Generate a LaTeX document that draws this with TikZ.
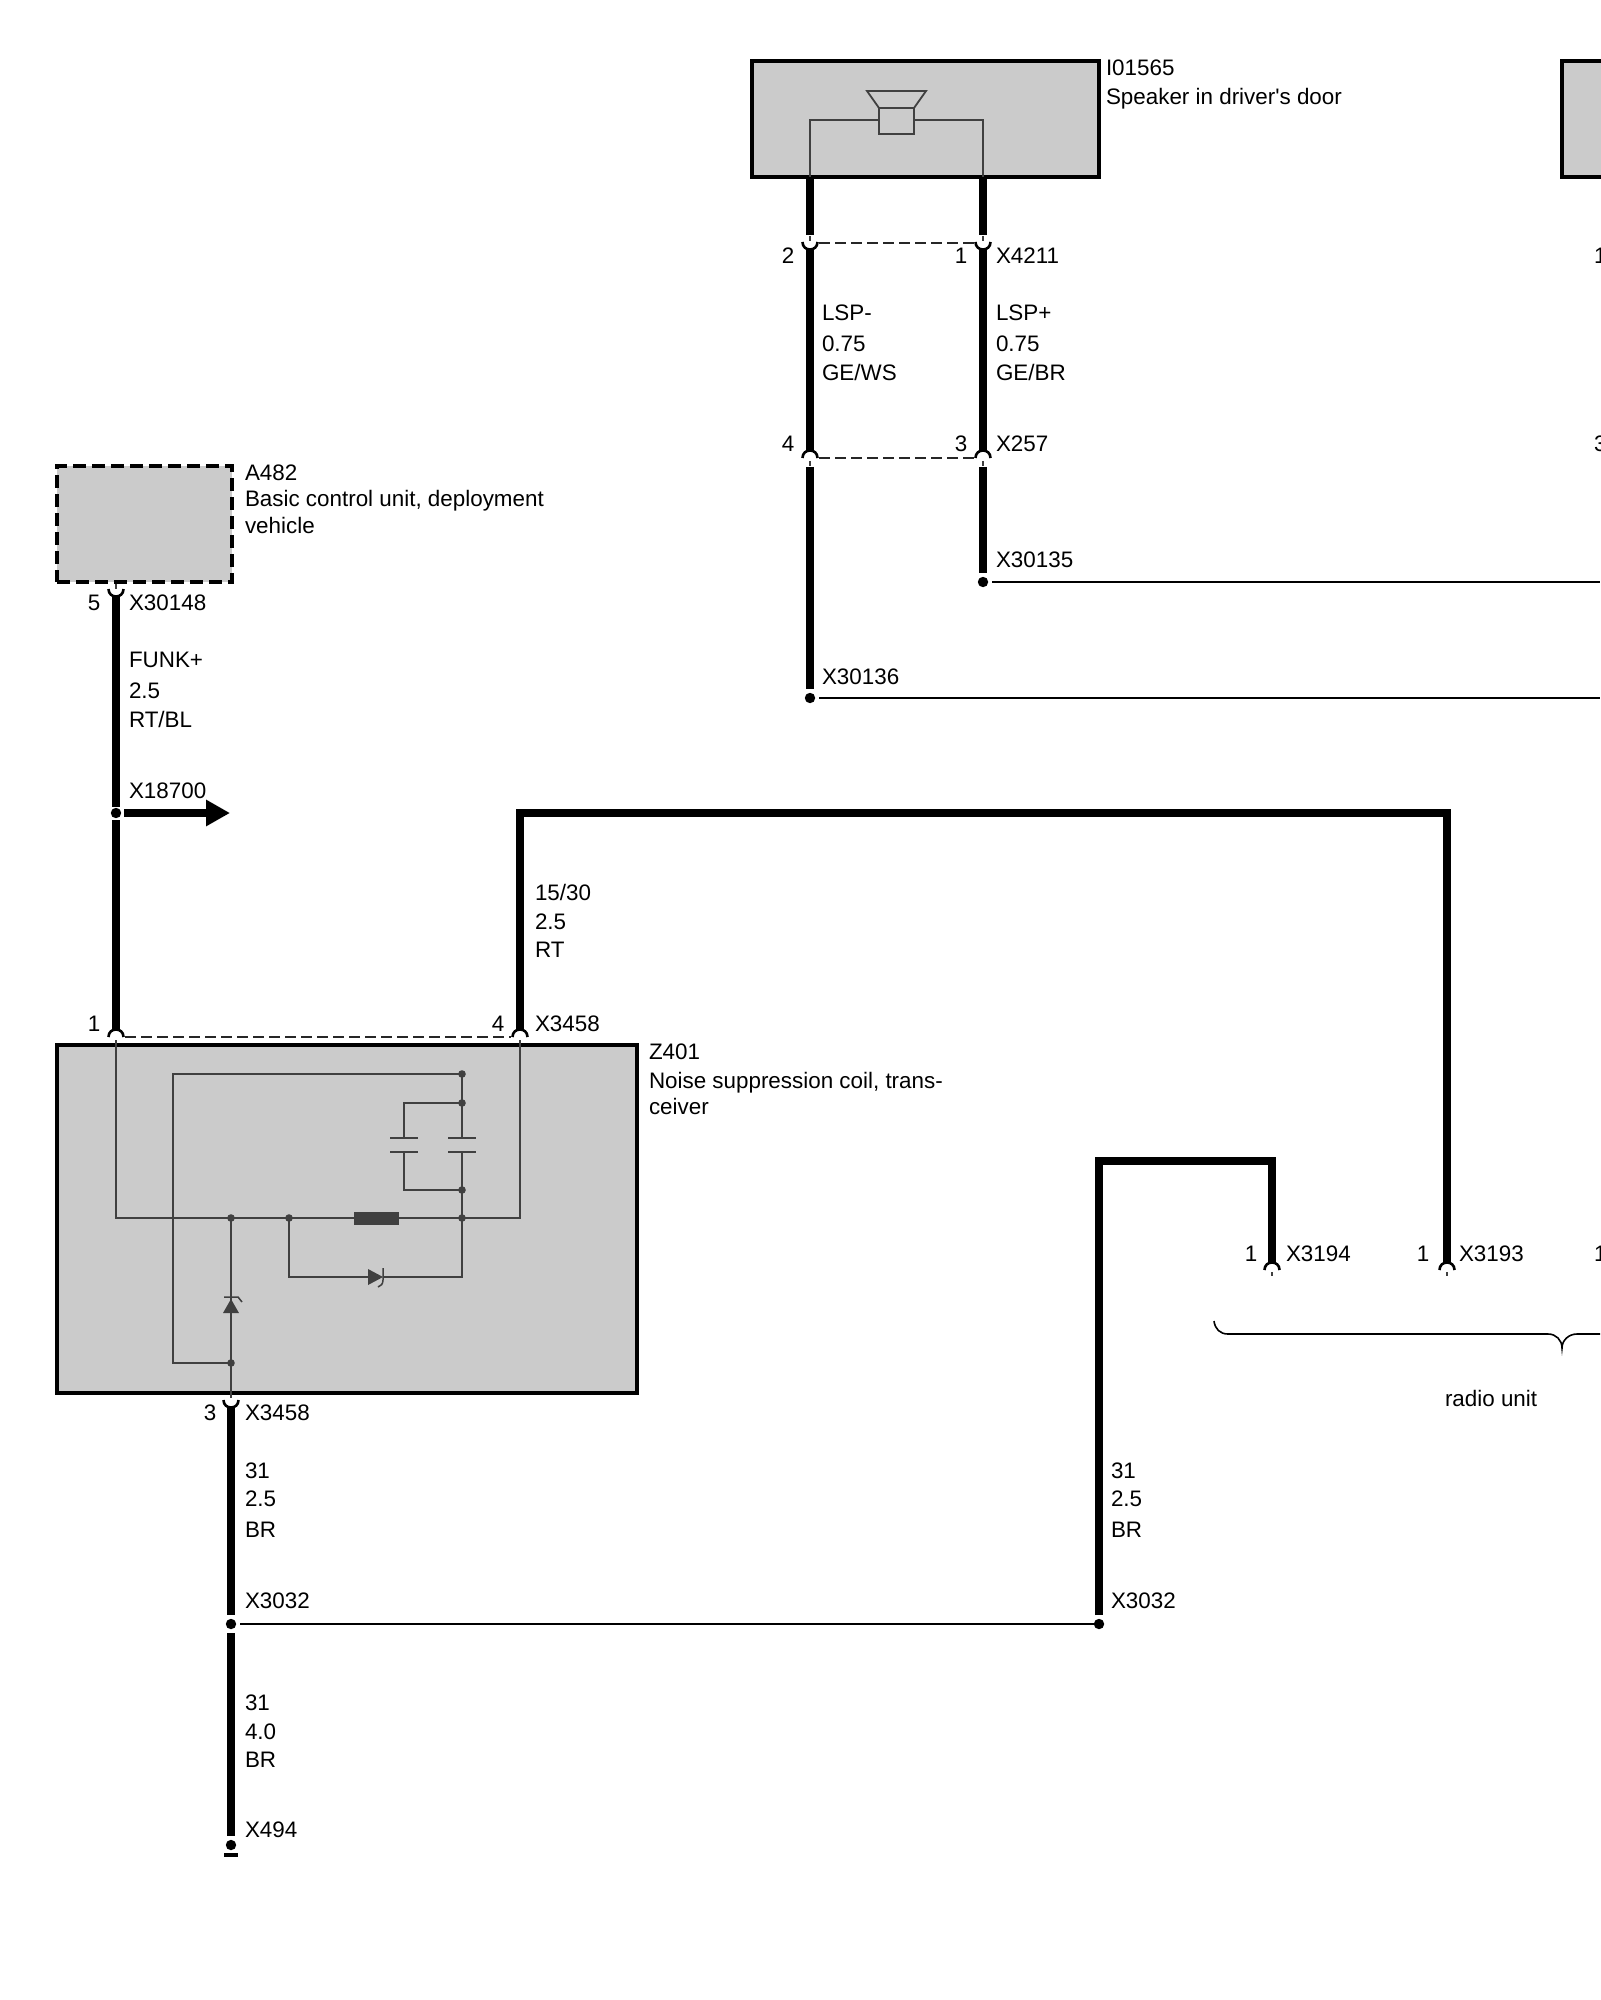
\documentclass[tikz,border=0pt]{standalone}
\usepackage{fontspec}
\newfontfamily\labfont{Liberation Sans}
\usetikzlibrary{arrows.meta}
\definecolor{boxgrey}{HTML}{CBCBCB}
\definecolor{inner}{HTML}{404040}
\newcommand\cupU[2]{\draw[pinline] ({#1-7.5},{#2}) .. controls ({#1-7.5},{#2+10}) and ({#1+7.5},{#2+10}) .. ({#1+7.5},{#2});}
\newcommand\cupN[2]{\draw[pinline] ({#1-7.5},{#2}) .. controls ({#1-7.5},{#2-10}) and ({#1+7.5},{#2-10}) .. ({#1+7.5},{#2});}
\tikzset{
  x=0.5pt,y=-0.5pt,
  unitbox/.style={draw=black,fill=boxgrey,line width=1.8pt,minimum width=#1,inner sep=0pt,outer sep=0pt,rectangle},
  wire/.style={draw=black,line width=4.2pt,line join=miter,line cap=butt},
  thinwire/.style={draw=black,line width=0.9pt},
  inwire/.style={draw=inner,line width=0.9pt,line join=miter},
  pinline/.style={draw=black,line width=1.3pt},
  stub/.style={draw=black!75,line width=0.7pt},
  linkdash/.style={draw=black!85,line width=0.7pt,dash pattern=on 5.5pt off 2.5pt},
  dotn/.style={circle,fill=black,inner sep=0pt,minimum size=5.2pt},
  indot/.style={circle,fill=inner,inner sep=0pt,minimum size=3.8pt},
  lbl/.style={anchor=base west,inner sep=0pt,outer sep=0pt,yshift=-0.6pt,font=\labfont\fontsize{11.2}{13}\selectfont,text=black},
  pinnum/.style={anchor=base,inner sep=0pt,outer sep=0pt,yshift=-0.6pt,font=\labfont\fontsize{11.2}{13}\selectfont,text=black},
}
\begin{document}
\begin{tikzpicture}
\useasboundingbox (0,0) rectangle (1600,2000);
\fill[white] (0,0) rectangle (1600,2000);

% ---- unit boxes
\node[unitbox=173.5pt,minimum height=58pt] (spk) at (925.5,119) {};
\node[unitbox=90pt,minimum height=58pt] (rbox) at (1652,119) {};
\node[fill=boxgrey,draw=black,line width=1.8pt,dash pattern=on 6.5pt off 3pt,minimum width=87.5pt,minimum height=58pt,inner sep=0pt,outer sep=0pt] (bcu) at (144.5,524) {};
\node[unitbox=290pt,minimum height=174pt] (zbox) at (347,1219) {};

% ---- speaker symbol
\coordinate (sa) at (810,177); \coordinate (sb) at (983,177);
\draw[inwire] (867,91) -- (926,91) -- (914,108) -- (879,108) -- cycle;
\node[draw=inner,line width=0.9pt,minimum width=17.5pt,minimum height=13pt,inner sep=0pt,outer sep=0pt] (magnet) at (896.5,121) {};
\draw[inwire] (sa) |- (magnet.west |- 0,120);
\draw[inwire] (sb) |- (magnet.east |- 0,120);

% ---- speaker wiring
\coordinate (l1) at (810,177); \coordinate (l2) at (810,235);
\coordinate (l3) at (810,248); \coordinate (l4) at (810,451);
\coordinate (l5) at (810,467); \coordinate (l6) at (810,689);
\coordinate (r1) at (983,177); \coordinate (r2) at (983,235);
\coordinate (r3) at (983,248); \coordinate (r4) at (983,451);
\coordinate (r5) at (983,467); \coordinate (r6) at (983,573);
\draw[wire] (l1)--(l2); \draw[wire] (l3)--(l4); \draw[wire] (l5)--(l6);
\draw[wire] (r1)--(r2); \draw[wire] (r3)--(r4); \draw[wire] (r5)--(r6);
\cupU{810}{242} \cupU{983}{242} \cupN{810}{458} \cupN{983}{458}
\draw[stub] (810,236)--(810,241); \draw[stub] (983,236)--(983,241);
\draw[stub] (810,461)--(810,466); \draw[stub] (983,461)--(983,466);
\coordinate (d1a) at (819,243); \coordinate (d1b) at (974,243);
\coordinate (d2a) at (819,458); \coordinate (d2b) at (974,458);
\draw[linkdash] (d1a)--(d1b); \draw[linkdash] (d2a)--(d2b);
\node[dotn] (j135) at (983,582) {};
\node[dotn] (j136) at (810,698) {};
\coordinate (e135) at (1600,582); \coordinate (e136) at (1600,698);
\draw[thinwire] ([xshift=4.5pt]j135.center)--(e135);
\draw[thinwire] ([xshift=4.5pt]j136.center)--(e136);

% ---- A482 wire
\coordinate (a1) at (116,595); \coordinate (a2) at (116,807);
\coordinate (a3) at (116,820); \coordinate (a4) at (116,1030);
\draw[wire] (a1)--(a2); \draw[wire] (a3)--(a4);
\cupU{116}{589}
\draw[stub] (116,584)--(116,589);
\node[dotn] (j187) at (116,813) {};
\coordinate (ar1) at (124,813); \coordinate (ar2) at (230,813);
\draw[wire,-{Triangle[length=12pt,width=12.5pt]}] (ar1)--(ar2);

% ---- Z401 top wires
\coordinate (w1) at (520,1030); \coordinate (w2) at (520,813);
\coordinate (w3) at (1447,813); \coordinate (w4) at (1447,1262);
\draw[wire] (w1)--(w2)--(w3)--(w4);
\cupN{116}{1037} \cupN{520}{1037}
\draw[linkdash] (125,1037)--(511,1037);
\draw[stub] (116,1040)--(116,1045); \draw[stub] (520,1040)--(520,1045);

% ---- Z401 inner circuit
\coordinate (p1) at (116,1045); \coordinate (p4) at (520,1045); \coordinate (p3) at (231,1393);
\node[indot] (n1) at (462,1074) {};
\node[indot] (n2) at (462,1103) {};
\node[indot] (n3) at (462,1190) {};
\node[indot] (n4) at (462,1218) {};
\node[indot] (n5) at (231,1218) {};
\node[indot] (n6) at (289,1218) {};
\node[indot] (n7) at (231,1363) {};
\node[fill=inner,minimum width=22.5pt,minimum height=6.5pt,inner sep=0pt,outer sep=0pt] (res) at (376.5,1218) {};
\draw[inwire] (p1)--(116,1218)--(res.west);
\draw[inwire] (res.east)--(520,1218)--(p4);
\draw[inwire] (n1.center)--(173,1074)--(173,1363)--(n7.center);
\draw[inwire] (n1.center)--(462,1138);
\draw[inwire] (462,1152)--(n4.center);
\draw[inwire] (n2.center)--(404,1103)--(404,1138);
\draw[inwire] (404,1152)--(404,1190)--(n3.center);
\draw[inwire] (390,1138)--(418,1138); \draw[inwire] (390,1152)--(418,1152);
\draw[inwire] (448,1138)--(476,1138); \draw[inwire] (448,1152)--(476,1152);
\draw[inwire] (n6.center)--(289,1277)--(368,1277);
\draw[inwire] (383,1277)--(462,1277)--(n4.center);
\fill[inner] (368,1269)--(383,1277)--(368,1285)--cycle;
\draw[inwire,line width=0.75pt] (383,1268)--(383,1280) .. controls (383,1284) and (381,1286) .. (378,1287);
\draw[inwire] (n5.center)--(p3);
\fill[inner] (223,1313)--(231,1299)--(239,1313)--cycle;
\draw[inwire,line width=0.75pt] (224,1297)--(238,1297)--(242,1302);

% ---- pin 3 and ground
\cupU{231}{1400}
\draw[stub] (231,1393)--(231,1398);
\coordinate (g1) at (231,1406); \coordinate (g2) at (231,1615);
\coordinate (g3) at (231,1633); \coordinate (g4) at (231,1836);
\draw[wire] (g1)--(g2); \draw[wire] (g3)--(g4);
\node[dotn] (j32) at (231,1624) {};
\node[dotn] (j494) at (231,1845) {};
\node[fill=black,minimum width=7pt,minimum height=2pt,inner sep=0pt,outer sep=0pt] (gnd) at (231,1855) {};
\node[dotn] (j32r) at (1099,1624) {};
\draw[thinwire] ([xshift=4.5pt]j32.center)--(j32r.center);

% ---- right wire and X3194
\coordinate (c1) at (1099,1615); \coordinate (c2) at (1099,1161);
\coordinate (c3) at (1272,1161); \coordinate (c4) at (1272,1262);
\draw[wire] (c1)--(c2)--(c3)--(c4);
\cupN{1272}{1270} \cupN{1447}{1270}
\draw[stub] (1272,1272)--(1272,1276); \draw[stub] (1447,1272)--(1447,1276);

% ---- brace
\coordinate (bs) at (1214,1321); \coordinate (be) at (1600,1334);
\draw[draw=black,line width=0.8pt] (bs) .. controls (1215,1329) and (1220,1334) .. (1228,1334) -- (1548,1334) .. controls (1556,1334) and (1562,1340) .. (1562,1348) .. controls (1562,1340) and (1569,1334) .. (1577,1334) -- (be);

% ---- labels
\node[lbl] (t1) at (1106,74) {I01565};
\node[lbl] (t2) at (1106,103) {Speaker in driver's door};
\node[pinnum] (t3) at (788,262) {2};
\node[pinnum] (t4) at (961,262) {1};
\node[lbl] (t5) at (996,262) {X4211};
\node[lbl] (t6) at (822,319) {LSP-};
\node[lbl] (t7) at (822,350) {0.75};
\node[lbl] (t8) at (822,379) {GE/WS};
\node[lbl] (t9) at (996,319) {LSP+};
\node[lbl] (t10) at (996,350) {0.75};
\node[lbl] (t11) at (996,379) {GE/BR};
\node[pinnum] (t12) at (788,450) {4};
\node[pinnum] (t13) at (961,450) {3};
\node[lbl] (t14) at (996,450) {X257};
\node[lbl] (t15) at (996,566) {X30135};
\node[lbl] (t16) at (822,683) {X30136};
\node[lbl] (t17) at (1594,262) {1};
\node[lbl] (t18) at (1594,450) {3};
\node[lbl] (t19) at (245,479) {A482};
\node[lbl] (t20) at (245,505) {Basic control unit, deployment};
\node[lbl] (t21) at (245,532) {vehicle};
\node[pinnum] (t22) at (94,609) {5};
\node[lbl] (t23) at (129,609) {X30148};
\node[lbl] (t24) at (129,666) {FUNK+};
\node[lbl] (t25) at (129,697) {2.5};
\node[lbl] (t26) at (129,726) {RT/BL};
\node[lbl] (t27) at (129,797) {X18700};
\node[lbl] (t28) at (535,899) {15/30};
\node[lbl] (t29) at (535,928) {2.5};
\node[lbl] (t30) at (535,956) {RT};
\node[pinnum] (t31) at (94,1030) {1};
\node[pinnum] (t32) at (498,1030) {4};
\node[lbl] (t33) at (535,1030) {X3458};
\node[lbl] (t34) at (649,1058) {Z401};
\node[lbl] (t35) at (649,1087) {Noise suppression coil, trans-};
\node[lbl] (t36) at (649,1113) {ceiver};
\node[pinnum] (t37) at (210,1419) {3};
\node[lbl] (t38) at (245,1419) {X3458};
\node[lbl] (t39) at (245,1477) {31};
\node[lbl] (t40) at (245,1505) {2.5};
\node[lbl] (t41) at (245,1536) {BR};
\node[lbl] (t42) at (245,1607) {X3032};
\node[lbl] (t43) at (245,1709) {31};
\node[lbl] (t44) at (245,1738) {4.0};
\node[lbl] (t45) at (245,1766) {BR};
\node[lbl] (t46) at (245,1836) {X494};
\node[lbl] (t47) at (1111,1477) {31};
\node[lbl] (t48) at (1111,1505) {2.5};
\node[lbl] (t49) at (1111,1536) {BR};
\node[lbl] (t50) at (1111,1607) {X3032};
\node[pinnum] (t51) at (1251,1260) {1};
\node[lbl] (t52) at (1286,1260) {X3194};
\node[pinnum] (t53) at (1423,1260) {1};
\node[lbl] (t54) at (1459,1260) {X3193};
\node[lbl] (t55) at (1594,1260) {1};
\node[lbl] (t56) at (1445,1405) {radio unit};
\end{tikzpicture}
\end{document}
